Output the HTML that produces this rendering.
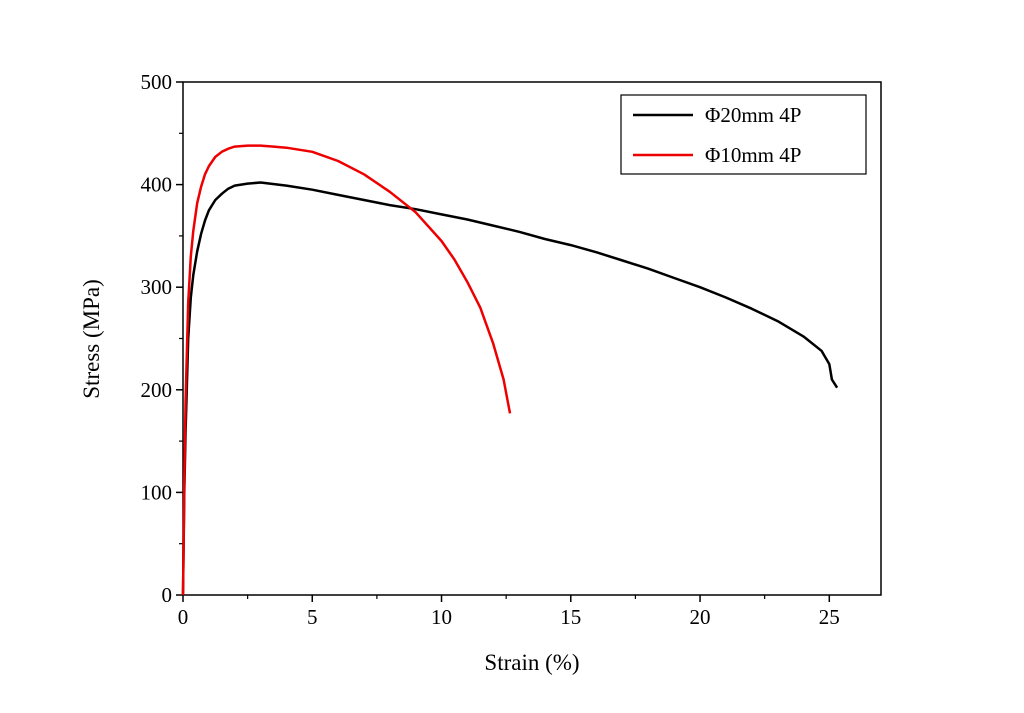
<!DOCTYPE html>
<html><head><meta charset="utf-8"><style>body{margin:0;background:#fff}svg{display:block}text{font-family:"Liberation Serif",serif;fill:#000}</style></head>
<body>
<svg id="chart" width="1024" height="713">
<rect x="183" y="82" width="698" height="513" fill="none" stroke="#000" stroke-width="1.5"/>
<g id="ticks"></g>
<g id="series"></g>
<text x="532" y="670" font-size="23" text-anchor="middle">Strain (%)</text>
<text transform="translate(99,339) rotate(-90)" font-size="23" text-anchor="middle">Stress (MPa)</text>
<g>
<rect x="621" y="95" width="245" height="79" fill="#fff" stroke="#000" stroke-width="1.2"/>
<line x1="633" y1="115" x2="693" y2="115" stroke="#000" stroke-width="2.5"/>
<text x="705" y="122" font-size="21">Φ20mm 4P</text>
<line x1="633" y1="155" x2="693" y2="155" stroke="#e00" stroke-width="2.5"/>
<text x="705" y="162" font-size="21">Φ10mm 4P</text>
</g>
</svg>
<script>
const xTicks=[0,5,10,15,20,25];
const yTicks=[0,100,200,300,400,500];
const blackX=[0,0.05,0.1,0.2,0.3,0.4,0.55,0.7,0.85,1,1.25,1.5,1.75,2,2.5,3,4,5,6,7,8,9,10,11,12,13,14,15,16,17,18,19,20,21,22,23,24,24.7,25,25.1,25.3];
const blackY=[0,100,160,250,290,312,335,352,365,375,385,391,396,399,401,402,399,395,390,385,380,376,371,366,360,354,347,341,334,326,318,309,300,290,279,267,252,238,225,210,202];
const redX=[0,0.05,0.1,0.2,0.3,0.4,0.55,0.7,0.85,1,1.25,1.5,1.75,2,2.5,3,3.5,4,5,6,7,8,9,10,10.5,11,11.5,12,12.4,12.65];
const redY=[0,110,190,285,330,355,382,398,410,418,427,432,435,437,438,438,437,436,432,423,410,393,373,345,327,305,280,245,210,177];
const X0=183,X1=881,Y0=595,Y1=82,XMAX=27,YMAX=500;
const sx=v=>X0+(X1-X0)*v/XMAX, sy=v=>Y0-(Y0-Y1)*v/YMAX;
const NS="http://www.w3.org/2000/svg";
const tg=document.getElementById('ticks'), sg=document.getElementById('series');
function mk(t,a,p){const e=document.createElementNS(NS,t);for(const k in a)e.setAttribute(k,a[k]);p.appendChild(e);return e;}
xTicks.forEach(v=>{const x=sx(v);
 const l=mk('line',{x1:x,x2:x,y1:Y0,y2:Y0+7,stroke:'#000','stroke-width':1.5},tg);
 
 
 const t=mk('text',{x:x,y:Y0+29,'font-size':21,'text-anchor':'middle'},tg);t.textContent=v;
 
 
 if(v+2.5<=XMAX){const m=mk('line',{x1:sx(v+2.5),x2:sx(v+2.5),y1:Y0,y2:Y0+4,stroke:'#000','stroke-width':1.2},tg);
 
 }
});
yTicks.forEach(v=>{const y=sy(v);
 const l=mk('line',{x1:X0-7,x2:X0,y1:y,y2:y,stroke:'#000','stroke-width':1.5},tg);
 
 
 const t=mk('text',{x:X0-11,y:y+7,'font-size':21,'text-anchor':'end'},tg);t.textContent=v;
 
 
 if(v+50<=YMAX){const m=mk('line',{x1:X0-4,x2:X0,y1:sy(v+50),y2:sy(v+50),stroke:'#000','stroke-width':1.2},tg);
 
 }
});
function path(xs,ys,c,name){const d=xs.map((x,i)=>(i?'L':'M')+sx(x).toFixed(1)+','+sy(ys[i]).toFixed(1)).join('');
 const p=mk('path',{d:d,fill:'none',stroke:c,'stroke-width':2.5,'stroke-linejoin':'round'},sg);
 
 }
path(blackX,blackY,'#000','series-20mm-line');
path(redX,redY,'#e00','series-10mm-line');
</script>
</body></html>
